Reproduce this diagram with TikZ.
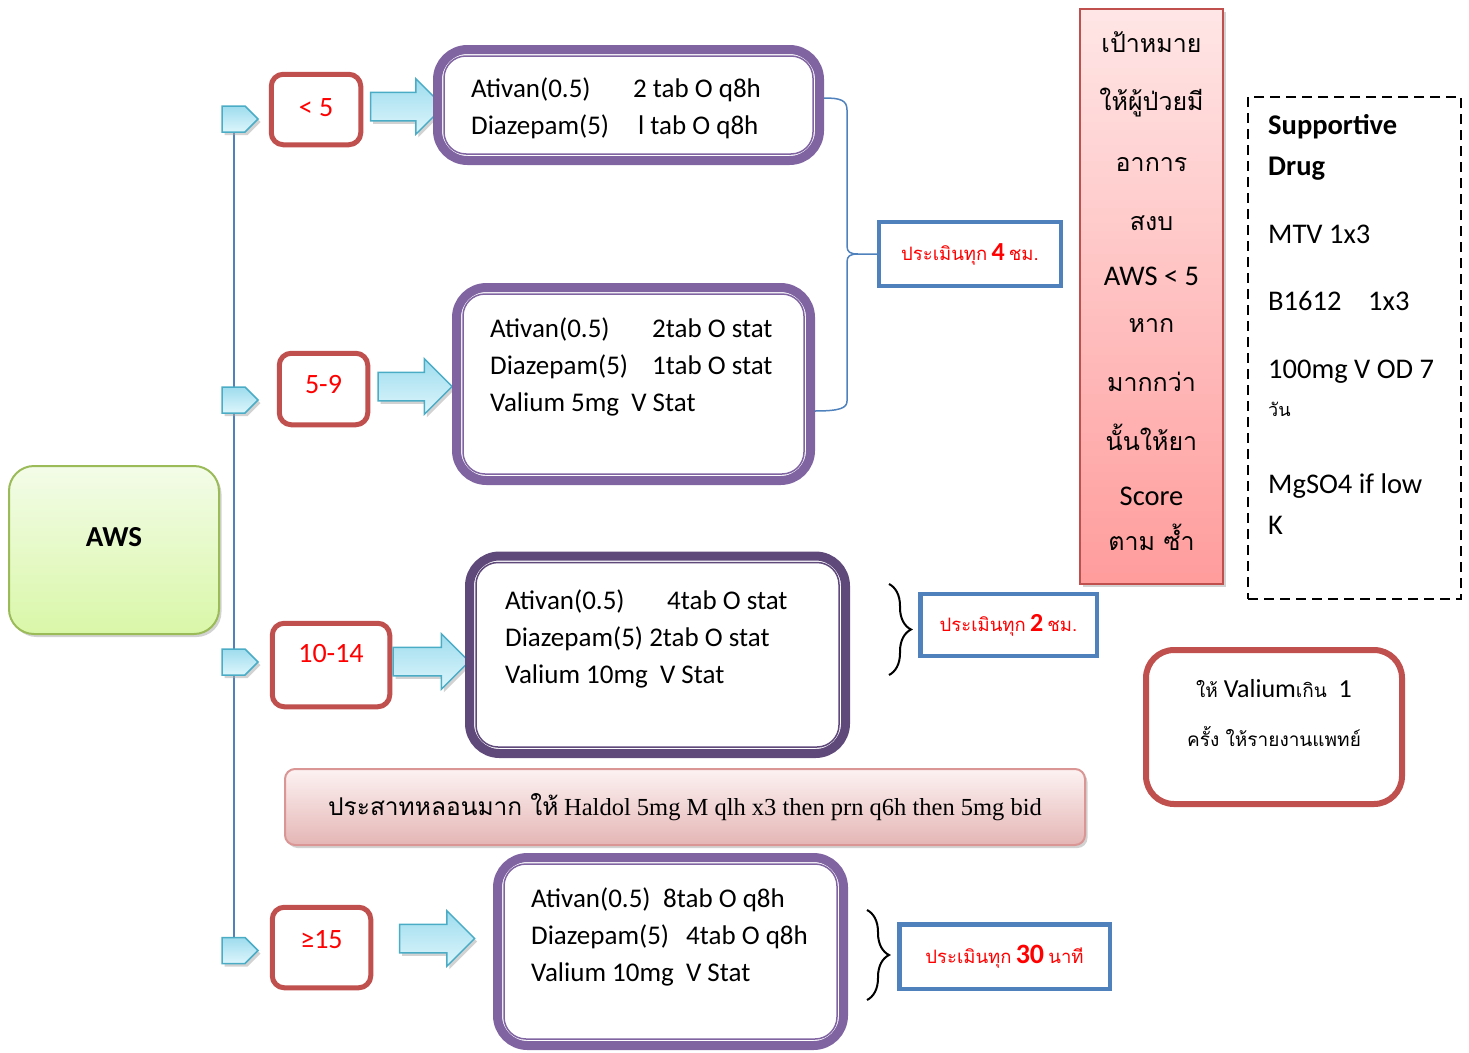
\documentclass[tikz,border=0pt]{standalone}
\usepackage{fontspec}
\setmainfont{Carlito}
\newfontfamily\thai[Script=Thai]{Loma}
\newfontfamily\tnr{Liberation Serif}
\usetikzlibrary{shapes.symbols,shapes.arrows,shadows,decorations.pathreplacing,backgrounds}

\newcommand\thaitext[1]{{\thai #1}}
\newcommand\sz[2]{\fontsize{#1}{#2}\selectfont}

\definecolor{purpleline}{HTML}{8064A2}
\definecolor{darkpurple}{HTML}{5F497A}
\definecolor{redline}{HTML}{C0504D}
\definecolor{blueline}{HTML}{4F81BD}
\definecolor{cyanline}{HTML}{4BACC6}
\definecolor{cyantop}{HTML}{9EDCEE}
\definecolor{cyanbot}{HTML}{DDF6FC}
\definecolor{greenline}{HTML}{9BBB59}
\definecolor{greentop}{HTML}{F3FCE8}
\definecolor{greenbot}{HTML}{D9F7A8}
\definecolor{pinktop}{HTML}{FFE6E6}
\definecolor{pinkbot}{HTML}{FF9C9C}
\definecolor{haldoltop}{HTML}{FDF2F2}
\definecolor{haldolbot}{HTML}{E4B6B5}
\definecolor{haldolline}{HTML}{D99694}

\tikzset{
  softshadow/.style={drop shadow={shadow xshift=2.5pt,shadow yshift=-3pt,fill=black!35}},
  levelflag/.style={signal, signal to=east, draw=cyanline, line width=1.5pt,
    top color=cyantop, bottom color=cyanbot, minimum width=36pt,
    minimum height=26pt, inner sep=0pt, softshadow},
  blockarrow/.style={single arrow, draw=cyanline, line width=1.5pt,
    top color=cyantop, bottom color=cyanbot, inner sep=0pt,
    text height=27pt, text depth=0pt, minimum width=54pt,
    single arrow head extend=13.5pt, single arrow head indent=0pt, softshadow},
  scorebox/.style={draw=redline, line width=5pt, rounded corners=12pt, fill=white,
    text=red, inner sep=0pt, font=\sz{28}{30}, text height=17.5pt},
  drugbox/.style={draw=purpleline, line width=9pt, rounded corners=30pt,
    fill=white, inner sep=0pt},
  drugline/.style={draw=purpleline, line width=1.5pt, rounded corners=22pt},
  drugtext/.style={anchor=base west, inner sep=0pt, font=\sz{27}{37}},
  evalbox/.style={draw=blueline, line width=4.5pt, fill=white, text=red,
    inner sep=0pt, font=\sz{18.5}{23}},
  stemline/.style={draw=blueline, line width=2pt},
  bluebrace/.style={draw=blueline, line width=1.5pt},
  blackbrace/.style={draw=black, line width=2pt, decorate,
    decoration={brace, amplitude=22pt}},
  awsbox/.style={draw=greenline, line width=2pt, rounded corners=25pt,
    top color=greentop, bottom color=greenbot, softshadow,
    font=\sz{29}{30}\bfseries, text height=17pt, text depth=24pt},
  goalbox/.style={draw=redline, line width=2pt, top color=pinktop,
    bottom color=pinkbot, softshadow},
  suppbox/.style={draw=black, line width=2.5pt, dash pattern=on 10pt off 6pt},
  valbox/.style={draw=redline, line width=6pt, rounded corners=28pt, fill=white},
  haldolbox/.style={draw=haldolline, line width=2pt, rounded corners=10pt,
    top color=haldoltop, bottom color=haldolbot, softshadow, inner sep=0pt,
    font=\sz{24.5}{28}}
}

\begin{document}
\begin{tikzpicture}[x=1pt,y=-1pt]
\useasboundingbox (0,0) rectangle (1469,1052);

% start box
\node[awsbox, minimum width=210pt, minimum height=168pt] (aws) at (114,550) {AWS};

% score levels
\node[levelflag] (f1) at (233.5,119) {};
\node[levelflag] (f2) at (233.5,400) {};
\node[levelflag] (f3) at (233.5,662) {};
\node[levelflag] (f4) at (233.5,950.5) {};
\begin{pgfonlayer}{background}
\draw[stemline] (f1.south) -- (f4.north);
\end{pgfonlayer}

\node[scorebox, minimum width=89.5pt, minimum height=70.5pt, text depth=4pt] (s1) at (316,109.5) {< 5};
\node[scorebox, minimum width=88.5pt, minimum height=71.5pt, text depth=8pt] (s2) at (323.5,389) {5-9};
\node[scorebox, minimum width=117.5pt, minimum height=83.5pt, text depth=22pt] (s3) at (331,665) {10-14};
\node[scorebox, minimum width=98.5pt, minimum height=80.5pt, text depth=15pt] (s4) at (321.5,947.5) {≥15};

\node[blockarrow, minimum height=73pt] (a1) at (400,106.5) {};
\node[blockarrow, minimum height=74pt] (a2) at (408,386.5) {};
\node[blockarrow, minimum height=76pt] (a3) at (424,661.5) {};
\node[blockarrow, minimum height=75pt] (a4) at (430,938.5) {};

% drug orders
\node[drugbox, minimum width=382pt, minimum height=111pt] (b1) at (628.5,105) {};
\node[drugbox, minimum width=354pt, minimum height=193pt] (b2) at (633.5,384) {};
\node[drugbox, draw=darkpurple, minimum width=376pt, minimum height=197.5pt] (b3) at (657.5,654.75) {};
\node[drugbox, minimum width=346pt, minimum height=188pt] (b4) at (670.5,951.5) {};
\foreach \b in {b1,b2,b4}
  \draw[drugline] ([shift={(11pt,-11pt)}]\b.north west) rectangle ([shift={(-11pt,11pt)}]\b.south east);
\draw[drugline, draw=darkpurple] ([shift={(11pt,-11pt)}]b3.north west) rectangle ([shift={(-11pt,11pt)}]b3.south east);

\node[drugtext] (d1) at (471,97) {\begin{tabular}[t]{@{}l@{}}
  \makebox[162pt][l]{Ativan(0.5)}2 tab O q8h\\
  \makebox[167pt][l]{Diazepam(5)}l tab O q8h\end{tabular}};
\node[drugtext] (d2) at (490,337) {\begin{tabular}[t]{@{}l@{}}
  \makebox[162pt][l]{Ativan(0.5)}2tab O stat\\
  \makebox[162pt][l]{Diazepam(5)}1tab O stat\\
  Valium 5mg~ V Stat\end{tabular}};
\node[drugtext] (d3) at (505,609) {\begin{tabular}[t]{@{}l@{}}
  \makebox[162pt][l]{Ativan(0.5)}4tab O stat\\
  Diazepam(5) 2tab O stat\\
  Valium 10mg~ V Stat\end{tabular}};
\node[drugtext] (d4) at (531,907) {\begin{tabular}[t]{@{}l@{}}
  \makebox[132pt][l]{Ativan(0.5)}8tab O q8h\\
  \makebox[155pt][l]{Diazepam(5)}4tab O q8h\\
  Valium 10mg~ V Stat\end{tabular}};

% reassessment
\node[evalbox, minimum width=182pt, minimum height=64pt] (p4) at (970,254)
  {\thaitext{ประเมินทุก} {\sz{26}{23}\bfseries 4} \thaitext{ชม.}};
\node[evalbox, minimum width=176.5pt, minimum height=62pt] (p2) at (1008.5,625)
  {\thaitext{ประเมินทุก} {\sz{26}{23}\bfseries 2} \thaitext{ชม.}};
\node[evalbox, minimum width=210.5pt, minimum height=64.5pt] (p3) at (1004.5,956.5)
  {\thaitext{ประเมินทุก} {\sz{28}{23}\bfseries 30} \thaitext{นาที}};

\draw[bluebrace] ([yshift=7pt]b1.east) .. controls (840,98) and (847,100) .. (847,110)
  -- (847,246) .. controls (847,252) and (850,254) .. (858,254) -- (p4.west)
  (858,254) .. controls (850,254) and (847,256) .. (847,262)
  -- (847,401) .. controls (847,408) and (840,411) .. ([yshift=-27pt]b2.east);
\coordinate (k2a) at (889,584);
\coordinate (k2b) at (889,675);
\draw[blackbrace] (k2a) -- (k2b);
\coordinate (k3a) at (867,910);
\coordinate (k3b) at (867,1000);
\draw[blackbrace] (k3a) -- (k3b);

% goal
\node[goalbox, minimum width=143pt, minimum height=575pt] (goal) at (1151.5,296.5) {};
\node[anchor=base, inner sep=0pt, font=\sz{28.5}{45}] (goaltx) at (1151.5,52) {\begin{tabular}[t]{@{}c@{}}
  {\sz{25}{45}\thaitext{เป้าหมาย}}\\[13pt]
  {\sz{25}{45}\thaitext{ให้ผู้ป่วยมี}}\\[16pt]
  {\sz{25}{45}\thaitext{อาการ}}\\[14pt]
  {\sz{25}{45}\thaitext{สงบ}}\\[10pt]
  AWS < 5\\[2pt]
  {\sz{25}{45}\thaitext{หาก}}\\[14pt]
  {\sz{25}{45}\thaitext{มากกว่า}}\\[14pt]
  {\sz{25}{45}\thaitext{นั้นให้ยา}}\\[10pt]
  Score\\
  {\sz{25}{45}\thaitext{ตาม ซ้ำ}}\end{tabular}};

% supportive drugs
\node[suppbox, minimum width=213pt, minimum height=502pt] (supp) at (1354.5,348) {};
\node[anchor=base west, inner sep=0pt, font=\sz{28.5}{41}] (supptx) at (1268,134) {\begin{tabular}[t]{@{}l@{}}
  \textbf{Supportive}\\
  \textbf{Drug}\\[27pt]
  MTV 1x3\\[26pt]
  \makebox[100pt][l]{B1612}1x3\\[27pt]
  100mg V OD 7\\[-3pt]
  {\sz{18}{20}\thaitext{วัน}}\\[36pt]
  MgSO4 if low\\
  K\end{tabular}};

% valium warning
\node[valbox, minimum width=256pt, minimum height=154pt] (val) at (1274,727) {};
\node[anchor=base, inner sep=0pt, font=\sz{26}{49}] (valtx) at (1274,697) {\begin{tabular}[t]{@{}c@{}}
  {\sz{19}{49}\thaitext{ให้}} Valium{\sz{19}{49}\thaitext{เกิน}}~ 1\\
  {\sz{19}{49}\thaitext{ครั้ง ให้รายงานแพทย์}}\end{tabular}};

% haloperidol
\node[haldolbox, minimum width=800pt, minimum height=76pt] (hal) at (685,807)
  {\thaitext{ประสาทหลอนมาก ให้} {\tnr Haldol 5mg M qlh x3 then prn q6h then 5mg bid}};
\end{tikzpicture}
\end{document}
